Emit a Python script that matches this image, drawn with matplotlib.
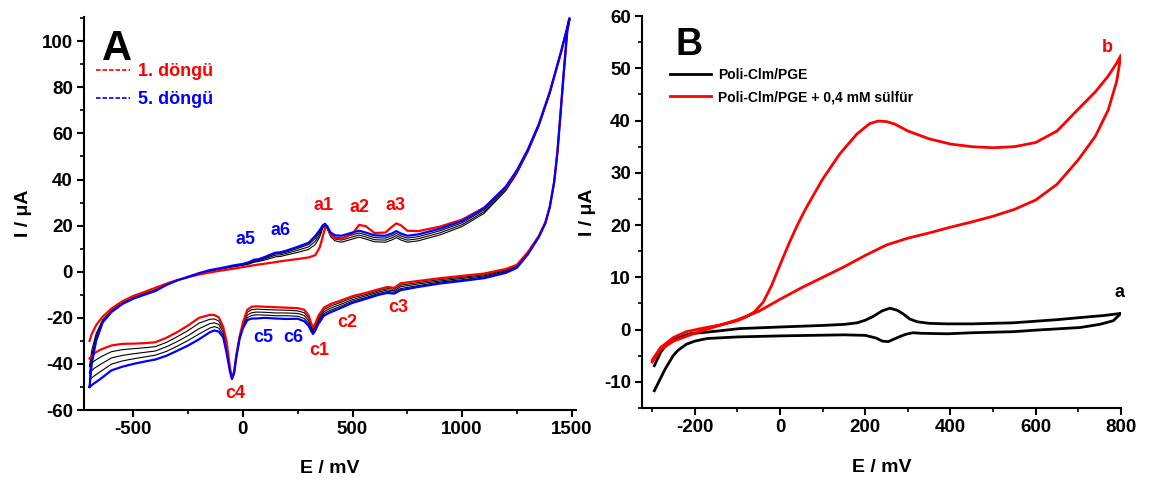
import numpy as np
import matplotlib
matplotlib.use("Agg")
import matplotlib.pyplot as plt
from matplotlib.lines import Line2D
from matplotlib.ticker import MultipleLocator

plt.rcParams['font.family'] = ['Liberation Sans', 'DejaVu Sans']
plt.rcParams['font.weight'] = 'bold'
plt.rcParams['axes.unicode_minus'] = False

# ---------------- panel A: 5 cycles (1 = red, 2-4 = black, 5 = blue) ----------------
E_fwd = [-700, -690, -670, -640, -600, -550, -500, -450, -400, -350, -300, -250, -200, -150,
         -100, -50, 0, 30, 50, 70, 100, 130, 150, 170, 200, 250, 300, 330, 350, 365, 375, 385,
         400, 420, 450, 500, 530, 560, 600, 650, 680, 700, 720, 750, 800, 900, 1000, 1100,
         1200, 1250, 1300, 1350, 1400, 1450, 1480, 1490]
E_rev = [1490, 1480, 1465, 1450, 1435, 1420, 1400, 1380, 1350, 1300, 1250, 1200, 1100, 1000,
         900, 800, 720, 690, 660, 620, 560, 500, 450, 400, 370, 345, 330, 320, 310, 300, 280,
         250, 200, 150, 100, 60, 40, 20, 0, -15, -30, -40, -50, -60, -75, -90, -110, -130, -150,
         -200, -250, -300, -350, -400, -450, -500, -550, -600, -650, -680, -700]

c1_fwd = [-30, -27, -23.2, -19.5, -16, -12.8, -10.5, -8.8, -7.0, -5.2, -3.6, -2.4, -1.2, -0.3,
          0.5, 1.2, 2.0, 2.5, 2.8, 3.1, 3.5, 3.9, 4.2, 4.5, 4.9, 5.5, 6.2, 7.2, 10.5, 15.5, 19.0,
          19.8, 16.0, 14.5, 14.3, 16.5, 20.3, 19.8, 16.8, 17.0, 19.5, 21.0, 20.2, 17.8, 17.6,
          19.6, 22.6, 27.8, 36.5, 43.5, 52.5, 63.5, 77.5, 94.5, 105.5, 109.5]
c1_rev = [109.5, 104, 87, 69, 51.5, 38.5, 28, 21.5, 15.5, 8.5, 3.0, 1.2, -0.8, -1.8, -2.8,
          -4.0, -5.0, -7.0, -6.6, -7.6, -9.2, -10.6, -12.4, -14.0, -15.5, -19.0, -22.5, -24.3,
          -22.0, -19.0, -16.5, -15.8, -15.6, -15.4, -15.2, -15.0, -15.2, -16.5, -22, -28, -36,
          -43, -46.5, -41, -30, -24, -19.8, -18.8, -18.7, -20.0, -23.3, -26.2, -28.7, -30.6,
          -31.0, -31.2, -31.3, -32.0, -33.8, -35.5, -37.7]

c2_fwd = [-41, -34.2, -26.9, -20.9, -16.8, -13.5, -11.2, -9.5, -7.8, -5.5, -3.7, -2.3, -0.9,
          0.2, 1.1, 2.0, 2.8, 3.4, 4.1, 4.4, 5.1, 5.9, 6.5, 6.6, 7.3, 8.4, 9.7, 11.8, 15.0, 19.0,
          20.0, 18.6, 15.2, 13.4, 12.8, 14.2, 15.0, 14.2, 13.0, 12.8, 13.8, 14.8, 13.8, 12.8,
          13.4, 16.0, 19.6, 25.3, 35.2, 42.5, 51.8, 63, 77.2, 94.4, 105.6, 109.8]
c2_rev = [109.8, 104.3, 87.3, 69.3, 51.6, 38.6, 28, 21.4, 15.4, 8.3, 2.7, 0.8, -1.3, -2.4,
          -3.4, -4.7, -5.8, -7.6, -7.3, -8.2, -9.9, -11.3, -13.2, -14.9, -16.4, -19.9, -23.3,
          -25.0, -22.9, -20.1, -17.8, -17.0, -16.7, -16.6, -16.4, -16.2, -16.5, -17.6, -22.6,
          -28.3, -36.3, -43.3, -46.5, -41.5, -31.3, -25.1, -21.4, -20.5, -20.6, -22.3, -25.5,
          -28.2, -30.7, -32.5, -33.0, -33.4, -33.8, -34.7, -37.0, -38.8, -40.8]

c3_fwd = [-44, -36.4, -28.1, -21.3, -17.1, -13.7, -11.4, -9.7, -8.0, -5.6, -3.7, -2.3, -0.8,
          0.4, 1.3, 2.2, 3.0, 3.7, 4.5, 4.8, 5.6, 6.6, 7.2, 7.3, 8.0, 9.3, 10.8, 13.2, 16.0, 19.5,
          20.3, 18.9, 15.8, 14.2, 13.7, 15.1, 15.9, 15.1, 13.9, 13.7, 14.7, 15.7, 14.7, 13.7,
          14.3, 16.9, 20.4, 26.0, 35.8, 43.0, 52.2, 63.3, 77.5, 94.6, 105.8, 109.9]
c3_rev = [109.9, 104.5, 87.5, 69.5, 51.8, 38.8, 28, 21.3, 15.3, 8.0, 2.4, 0.4, -1.8, -2.9,
          -4.0, -5.3, -6.5, -8.3, -7.9, -8.8, -10.5, -12.1, -14.0, -15.8, -17.3, -20.8, -24.0,
          -25.7, -23.8, -21.3, -19.0, -18.1, -17.9, -17.9, -17.6, -17.5, -17.8, -18.8, -23.3,
          -28.5, -36.5, -43.5, -46.5, -42, -32.5, -26.3, -22.9, -22.2, -22.5, -24.7, -27.7,
          -30.3, -32.6, -34.4, -35.0, -35.6, -36.3, -37.4, -40.2, -42.0, -43.9]

c4_fwd = [-47, -38.3, -29.1, -21.7, -17.3, -13.8, -11.5, -9.8, -8.2, -5.7, -3.8, -2.2, -0.7,
          0.6, 1.5, 2.4, 3.2, 4.0, 4.9, 5.1, 6.0, 7.1, 7.8, 7.9, 8.6, 10.1, 11.8, 14.4, 17.0, 19.9,
          20.6, 19.2, 16.3, 15.0, 14.6, 16.0, 16.8, 16.0, 14.8, 14.6, 15.6, 16.6, 15.6, 14.6,
          15.2, 17.8, 21.2, 26.8, 36.4, 43.5, 52.6, 63.7, 77.8, 94.8, 106, 110]
c4_rev = [110, 104.8, 87.8, 69.8, 51.9, 38.9, 28, 21.1, 15.1, 7.8, 2.0, 0.0, -2.3, -3.5,
          -4.5, -6.0, -7.3, -8.9, -8.6, -9.4, -11.2, -12.8, -14.8, -16.7, -18.1, -21.6, -24.8,
          -26.3, -24.6, -22.4, -20.3, -19.3, -19.1, -19.1, -18.8, -18.7, -19.0, -19.9, -23.9,
          -28.8, -36.8, -43.8, -46.5, -42.5, -33.8, -27.4, -24.5, -23.8, -24.4, -27.0, -29.8,
          -32.3, -34.6, -36.2, -37.0, -37.8, -38.7, -40.1, -43.3, -45.3, -46.9]

c5_fwd = [-50, -40, -30, -22, -17.5, -14, -11.7, -10, -8.4, -5.8, -3.8, -2.2, -0.6, 0.7, 1.6,
          2.6, 3.4, 4.2, 5.2, 5.4, 6.4, 7.6, 8.3, 8.4, 9.2, 10.8, 12.6, 15.5, 18.0, 20.2, 20.8,
          19.5, 17.0, 15.8, 15.6, 17.0, 17.8, 17.0, 15.8, 15.6, 16.6, 17.6, 16.6, 15.6, 16.2,
          18.7, 22.0, 27.5, 37.0, 44.0, 53.0, 64.0, 78.0, 95.0, 106.0, 110.0]
c5_rev = [110, 105, 88, 70, 52, 39, 28, 21, 15, 7.5, 1.7, -0.5, -2.8, -4.0, -5.1, -6.6, -8.0,
          -9.5, -9.2, -10.0, -11.8, -13.5, -15.6, -17.6, -19.0, -22.5, -25.5, -27.0, -25.5,
          -23.5, -21.5, -20.4, -20.5, -20.3, -20.0, -20.3, -20.3, -21.0, -24.5, -29, -37, -44,
          -46.5, -43, -35, -28.5, -26, -25.5, -26.2, -29.3, -32, -34.3, -36.5, -38.1, -39.0,
          -40, -41.2, -42.8, -46.5, -48.5, -50]

peak_labels = ['a1', 'a2', 'a3', 'a5', 'a6', 'c1', 'c2', 'c3', 'c4', 'c5', 'c6']
peak_E = [368, 533, 698, 11, 172, 346, 478, 707, -34, 94, 231]
peak_I = [28.6, 27.8, 28.6, 13.9, 17.8, -34.3, -22.1, -15.6, -52.9, -28.6, -28.6]
peak_col = ['red', 'red', 'red', 'blue', 'blue', 'red', 'red', 'red', 'red', 'blue', 'blue']

# ---------------- panel B ----------------
Ea_fwd = [-295, -280, -265, -250, -230, -211, -150, -94, 0, 100, 150, 181, 200, 218, 240, 258,
          275, 289, 305, 322, 350, 392, 450, 547, 650, 704, 760, 790, 800]
Ia_fwd = [-6.9, -4.3, -2.7, -1.9, -1.3, -0.8, -0.3, 0.2, 0.5, 0.8, 1.0, 1.3, 1.8, 2.5, 3.6, 4.1,
          3.7, 3.0, 2.0, 1.5, 1.2, 1.1, 1.1, 1.3, 1.9, 2.3, 2.7, 3.0, 3.1]
Ea_rev = [800, 782, 750, 704, 600, 547, 450, 392, 330, 312, 295, 282, 265, 254, 240, 225, 200,
          150, 0, -100, -171, -200, -220, -240, -251, -270, -295]
Ia_rev = [3.1, 1.7, 1.0, 0.4, -0.1, -0.4, -0.6, -0.8, -0.7, -0.6, -0.9, -1.3, -1.9, -2.3, -2.2,
          -1.6, -1.1, -1.0, -1.2, -1.4, -1.7, -2.2, -2.8, -4.0, -5.0, -7.6, -11.7]

Eb_fwd = [-300, -280, -250, -220, -180, -140, -100, -80, -60, -40, -20, 0, 20, 40, 60, 100,
          140, 180, 210, 230, 250, 270, 300, 350, 400, 450, 500, 550, 600, 650, 700, 740, 770,
          790, 800]
Ib_fwd = [-5.8, -3.4, -1.5, -0.4, 0.3, 0.9, 1.7, 2.4, 3.4, 5.2, 8.4, 12.4, 16.3, 19.9, 23.1,
          28.8, 33.6, 37.4, 39.4, 39.9, 39.8, 39.3, 38.0, 36.5, 35.5, 35.0, 34.8, 35.0, 35.8,
          38.0, 42.2, 45.5, 48.5, 51.0, 52.5]
Eb_rev = [800, 790, 770, 740, 700, 650, 600, 550, 500, 450, 400, 350, 300, 250, 200, 150, 100,
          50, 0, -50, -100, -150, -200, -250, -280, -300]
Ib_rev = [52.5, 47.5, 42.0, 37.0, 32.5, 27.8, 24.8, 23.0, 21.7, 20.6, 19.6, 18.5, 17.5, 16.2,
          14.2, 12.0, 10.0, 8.0, 5.8, 3.5, 1.9, 0.6, -0.7, -2.2, -3.8, -6.2]

legend_A = ['1. döngü', '5. döngü']
legend_B = ['Poli-Clm/PGE', 'Poli-Clm/PGE + 0,4 mM sülfür']

fig = plt.figure(figsize=(11.53, 4.88), dpi=100)
axA = fig.add_axes([0.0729, 0.1598, 0.4267, 0.8053])
axB = fig.add_axes([0.5568, 0.1639, 0.4154, 0.8033])

for ax in (axA, axB):
    for s in ('top', 'right'):
        ax.spines[s].set_visible(False)
    for s in ('left', 'bottom'):
        ax.spines[s].set_linewidth(1.5)
    ax.tick_params(which='major', direction='out', length=5, width=1.5, labelsize=13.5, pad=3)
    ax.tick_params(which='minor', direction='out', length=3, width=1.2)

# panel A curves
E_all = E_fwd + E_rev
for f, r in [(c2_fwd, c2_rev), (c3_fwd, c3_rev), (c4_fwd, c4_rev)]:
    axA.plot(E_all, f + r, color='black', lw=0.8)
axA.plot(E_all, c1_fwd + c1_rev, color='red', lw=1.6)
axA.plot(E_all, c5_fwd + c5_rev, color='blue', lw=1.6)

for lab, x, y, c in zip(peak_labels, peak_E, peak_I, peak_col):
    axA.text(x, y, lab, color=c, fontsize=13, fontweight='bold', ha='center', va='center')

axA.set_xlim(-725, 1520)
axA.set_ylim(-60, 110.5)
axA.xaxis.set_major_locator(MultipleLocator(500))
axA.xaxis.set_minor_locator(MultipleLocator(250))
axA.yaxis.set_major_locator(MultipleLocator(20))
axA.yaxis.set_minor_locator(MultipleLocator(10))
axA.set_xlabel('E / mV', fontsize=14, fontweight='bold')
axA.set_ylabel('I / μA', fontsize=14, fontweight='bold')
axA.xaxis.set_label_coords(0.5, -0.128)
axA.yaxis.set_label_coords(-0.106, 0.5)
axA.text(0.037, 0.891, 'A', transform=axA.transAxes, fontsize=30, fontweight='bold',
         ha='left', va='baseline')

hA = [Line2D([], [], color='red', lw=1.2, linestyle=(0, (2.7, 1.2))),
      Line2D([], [], color='blue', lw=1.2, linestyle=(0, (2.7, 1.2)))]
axA.legend(hA, legend_A, loc='upper left', bbox_to_anchor=(0.024, 0.883), frameon=False,
           borderpad=0, borderaxespad=0, handlelength=1.9, handletextpad=0.45,
           labelspacing=0.6, labelcolor='linecolor',
           prop={'size': 13, 'weight': 'bold'})

# panel B curves
axB.plot(Ea_fwd + Ea_rev, Ia_fwd + Ia_rev, color='black', lw=2)
axB.plot(Eb_fwd + Eb_rev, Ib_fwd + Ib_rev, color='red', lw=2)
axB.text(796, 7.1, 'a', color='black', fontsize=13, fontweight='bold', ha='center', va='center')
axB.text(768, 53.9, 'b', color='red', fontsize=13, fontweight='bold', ha='center', va='center')

axB.set_xlim(-324, 800)
axB.set_ylim(-15, 60)
axB.xaxis.set_major_locator(MultipleLocator(200))
axB.xaxis.set_minor_locator(MultipleLocator(100))
axB.yaxis.set_major_locator(MultipleLocator(10))
axB.yaxis.set_minor_locator(MultipleLocator(5))
axB.set_xlabel('E / mV', fontsize=14, fontweight='bold')
axB.set_ylabel('I / μA', fontsize=14, fontweight='bold')
axB.xaxis.set_label_coords(0.5, -0.13)
axB.yaxis.set_label_coords(-0.096, 0.5)
axB.text(0.069, 0.90, 'B', transform=axB.transAxes, fontsize=27, fontweight='bold',
         ha='left', va='baseline')

hB = [Line2D([], [], color='black', lw=2), Line2D([], [], color='red', lw=2)]
axB.legend(hB, legend_B, loc='upper left', bbox_to_anchor=(0.058, 0.867), frameon=False,
           borderpad=0, borderaxespad=0, handlelength=3, handletextpad=0.5,
           labelspacing=0.58, prop={'size': 10, 'weight': 'bold'})

for ax in (axA, axB):
    for lab in ax.get_xticklabels() + ax.get_yticklabels():
        lab.set_fontweight('bold')

fig.savefig('out.png', dpi=100)
